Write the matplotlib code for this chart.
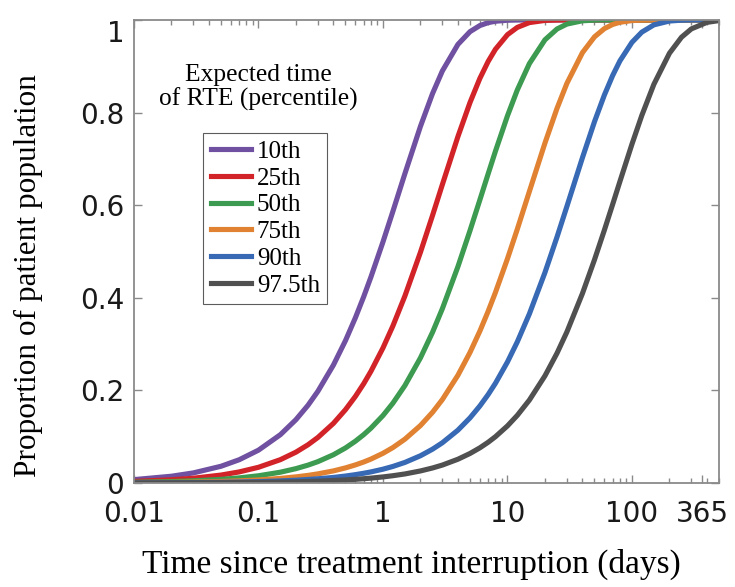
"""
Cumulative time to RTE after treatment interruption, by percentile
"""

# %%

import matplotlib
matplotlib.use("Agg")
import matplotlib.pyplot as plt
from matplotlib.ticker import FixedLocator, LogLocator, NullFormatter

# %%

days = [0.01, 0.02, 0.03, 0.05, 0.07, 0.1, 0.15, 0.2, 0.25, 0.3, 0.4, 0.5,
        0.6, 0.7, 0.8, 1, 1.2, 1.5, 2, 2.5, 3, 4, 5, 6, 7, 8, 10, 12, 15, 20,
        25, 30, 40, 50, 60, 70, 80, 100, 120, 150, 200, 250, 300, 400, 500]

p10 = [0.0073, 0.0146, 0.0218, 0.0361, 0.0502, 0.0709, 0.1044, 0.1368,
       0.1679, 0.1980, 0.2548, 0.3076, 0.3567, 0.4023, 0.4447, 0.5207,
       0.5862, 0.6681, 0.7702, 0.8409, 0.8899, 0.9472, 0.9747, 0.9879,
       0.9942, 0.9972, 0.9994, 0.9998, 1.0, 1.0, 1.0, 1.0, 1.0, 1.0, 1.0,
       1.0, 1.0, 1.0, 1.0, 1.0, 1.0, 1.0, 1.0, 1.0, 1.0]
p25 = [0.0034, 0.0069, 0.0103, 0.0171, 0.0239, 0.0339, 0.0504, 0.0666,
       0.0826, 0.0983, 0.1288, 0.1584, 0.1869, 0.2144, 0.2411, 0.2917,
       0.3389, 0.4038, 0.4983, 0.5777, 0.6446, 0.7482, 0.8216, 0.8737,
       0.9105, 0.9366, 0.9682, 0.9840, 0.9943, 0.9990, 0.9998, 1.0, 1.0,
       1.0, 1.0, 1.0, 1.0, 1.0, 1.0, 1.0, 1.0, 1.0, 1.0, 1.0, 1.0]
p50 = [0.0016, 0.0031, 0.0047, 0.0078, 0.0110, 0.0156, 0.0233, 0.0310,
       0.0386, 0.0461, 0.0610, 0.0757, 0.0902, 0.1044, 0.1184, 0.1457,
       0.1722, 0.2104, 0.2702, 0.3254, 0.3765, 0.4673, 0.5450, 0.6113,
       0.6679, 0.7163, 0.7930, 0.8489, 0.9058, 0.9571, 0.9805, 0.9911,
       0.9982, 0.9996, 1.0, 1.0, 1.0, 1.0, 1.0, 1.0, 1.0, 1.0, 1.0, 1.0, 1.0]
p75 = [0.0007, 0.0013, 0.0020, 0.0033, 0.0046, 0.0066, 0.0099, 0.0132,
       0.0164, 0.0197, 0.0261, 0.0326, 0.0390, 0.0453, 0.0516, 0.0641,
       0.0764, 0.0946, 0.1241, 0.1526, 0.1802, 0.2327, 0.2819, 0.3279,
       0.3710, 0.4113, 0.4843, 0.5483, 0.6297, 0.7341, 0.8090, 0.8629,
       0.9293, 0.9635, 0.9812, 0.9903, 0.9950, 0.9987, 0.9996, 1.0, 1.0,
       1.0, 1.0, 1.0, 1.0]
p90 = [0.0003, 0.0006, 0.0009, 0.0015, 0.0021, 0.0030, 0.0045, 0.0060,
       0.0076, 0.0091, 0.0120, 0.0150, 0.0180, 0.0210, 0.0239, 0.0298,
       0.0357, 0.0444, 0.0588, 0.0730, 0.0869, 0.1141, 0.1406, 0.1663,
       0.1911, 0.2152, 0.2614, 0.3049, 0.3653, 0.4545, 0.5312, 0.5971,
       0.7024, 0.7803, 0.8377, 0.8801, 0.9115, 0.9517, 0.9737, 0.9894,
       0.9977, 0.9995, 0.9999, 1.0, 1.0]
p975 = [0.0001, 0.0003, 0.0004, 0.0007, 0.0009, 0.0013, 0.0020, 0.0026,
        0.0033, 0.0039, 0.0053, 0.0066, 0.0079, 0.0092, 0.0105, 0.0131,
        0.0157, 0.0195, 0.0260, 0.0324, 0.0387, 0.0513, 0.0637, 0.0759,
        0.0880, 0.0999, 0.1233, 0.1461, 0.1791, 0.2314, 0.2803, 0.3261,
        0.4092, 0.4821, 0.5459, 0.6019, 0.6510, 0.7318, 0.7938, 0.8611,
        0.9281, 0.9627, 0.9807, 0.9948, 0.9986]

curves = [p10, p25, p50, p75, p90, p975]
names = ["10th", "25th", "50th", "75th", "90th", "97.5th"]
colors = ["#7050a0", "#d22328", "#3c9b50", "#e08232", "#3769b4", "#505050"]

xticks = [0.01, 0.1, 1, 10, 100, 365]
xticklabels = ["0.01", "0.1", "1", "10", "100", "365"]
yticks = [0, 0.2, 0.4, 0.6, 0.8, 1]
yticklabels = ["0", "0.2", "0.4", "0.6", "0.8", "1"]

serif = ["Liberation Serif", "DejaVu Serif"]
spine_col = "#8a8a8a"

# %%

fig = plt.figure(figsize=(7.35, 5.87), dpi=100)
ax = fig.add_axes([0.1823, 0.1772, 0.7959, 0.7888])

for y, name, c in zip(curves, names, colors):
    ax.plot(days, y, color=c, lw=3.7, label=name)

ax.set_xscale("log")
ax.set_xlim(0.01, 500)
ax.set_ylim(0, 1)

ax.xaxis.set_major_locator(FixedLocator(xticks))
ax.set_xticklabels(xticklabels)
ax.xaxis.set_minor_locator(LogLocator(base=10, subs=range(2, 10), numticks=20))
ax.xaxis.set_minor_formatter(NullFormatter())
ax.set_yticks(yticks)
ax.set_yticklabels(yticklabels)
ax.get_yticklabels()[-1].set_va("top")

ax.tick_params(which="both", direction="in", top=True, right=True,
               color=spine_col, width=1.0, labelsize=20, labelcolor="#1a1a1a")
ax.tick_params(which="major", length=6)
ax.tick_params(which="minor", length=3.5)
ax.tick_params(axis="x", pad=12)
ax.tick_params(axis="y", pad=7)
for s in ax.spines.values():
    s.set_color(spine_col)
    s.set_linewidth(1.3)

ax.set_xlabel("Time since treatment interruption (days)", family=serif,
              fontsize=24)
ax.xaxis.set_label_coords(0.4735, -0.142)
ax.set_ylabel("Proportion of patient population", family=serif, fontsize=22.5)
ax.yaxis.set_label_coords(-0.155, 0.449)

# legend title sits above the box
ax.text(0.212, 0.854, "Expected time\nof RTE (percentile)", transform=ax.transAxes,
        ha="center", va="center", family=serif, fontsize=18.4, linespacing=1.05)

leg = ax.legend(loc="upper left", bbox_to_anchor=(0.118, 0.756),
                prop={"family": serif, "size": 18}, frameon=True,
                fancybox=False, edgecolor="#333333", handlelength=1.6,
                handletextpad=0.25, labelspacing=0.17, borderpad=0.3,
                borderaxespad=0)
leg.get_frame().set_linewidth(0.8)

fig.savefig("out.png", dpi=100)
